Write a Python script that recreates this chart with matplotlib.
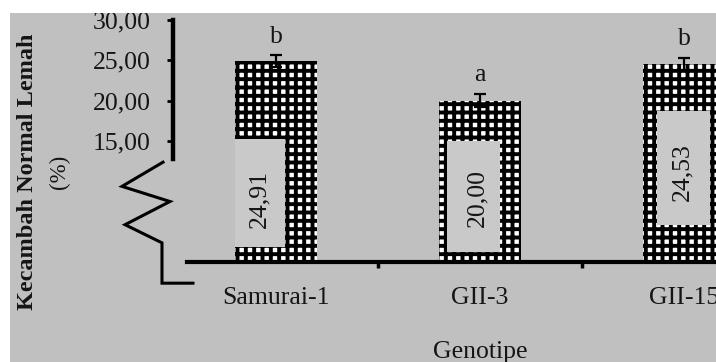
import matplotlib
matplotlib.use("Agg")
import matplotlib.pyplot as plt
from matplotlib.patches import Rectangle

# ---- data ----
genotypes = ['Samurai-1', 'GII-3', 'GII-15']
values = [24.91, 20.00, 24.53]
errors = [0.7, 0.8, 0.8]
letters = ['b', 'a', 'b']
value_labels = ['24,91', '20,00', '24,53']
yticks = [15, 20, 25, 30]
ytick_labels = ['15,00', '20,00', '25,00', '30,00']
ylabel = 'Kecambah Normal Lemah'
ylabel_unit = '(%)'
xlabel = 'Genotipe'

# ---- style ----
BG = '#c0c0c0'
INNER = '#c9c9c9'
TXT = '#151515'
FONT = 'Liberation Serif'
FS = 18.5
plt.rcParams['font.family'] = [FONT, 'DejaVu Serif']
plt.rcParams['hatch.linewidth'] = 2.8

W, H = 716, 362
fig = plt.figure(figsize=(W / 100, H / 100), dpi=100, facecolor=BG)
ax = fig.add_axes([173 / W, (H - 262) / H, (W - 173) / W, 242 / H])
ax.set_facecolor('none')

x = list(range(len(genotypes)))
bars = ax.bar(x, values, width=0.4, facecolor='white', edgecolor='black',
              linewidth=0, hatch='++', zorder=2)

# inner label boxes (offsets relative to bar centre, style only)
box_style = [(-0.20, 0.044, 1.9, 15.25),
             (-0.162, 0.098, 1.25, 15.0),
             (-0.132, 0.127, 4.6, 18.75)]
label_style = [(-0.083, 7.75), (-0.015, 7.9), (-0.01, 11.1)]
for xi, (x0, x1, y0, y1), (dx, ly), lab in zip(x, box_style, label_style, value_labels):
    ax.add_patch(Rectangle((xi + x0, y0), x1 - x0, y1 - y0, facecolor=INNER,
                           edgecolor='none', zorder=3))
    ax.text(xi + dx, ly, lab, rotation=90, ha='center', va='center',
            fontsize=FS, color=TXT, zorder=4)

ax.errorbar(x, values, yerr=errors, fmt='none', ecolor='black', elinewidth=1.6,
            capsize=4, capthick=1.6, zorder=5)
for xi, v, e, l in zip(x, values, errors, letters):
    ax.text(xi, v + e + 1.6, l, ha='center', va='baseline', fontsize=FS,
            color=TXT, zorder=5)

ax.set_xlim(-0.505, (W - 276) / 204)
ax.set_ylim(0, 30)

for s in ['top', 'right']:
    ax.spines[s].set_visible(False)
ax.spines['left'].set_linewidth(3.2)
ax.spines['left'].set_bounds(12.75, 30)
ax.spines['bottom'].set_linewidth(3.0)
ax.spines['bottom'].set_bounds(-0.436, (W - 276) / 204)

ax.set_yticks(yticks)
ax.set_yticklabels(ytick_labels, fontsize=FS, color=TXT)
ax.tick_params(axis='y', direction='out', length=4, width=2, pad=12)

ax.set_xticks(x)
ax.set_xticklabels(genotypes, fontsize=FS, color=TXT)
ax.set_xticks([0.5, 1.5], minor=True)
ax.tick_params(axis='x', which='major', length=0, pad=18)
ax.tick_params(axis='x', which='minor', direction='out', length=4, width=2.5)

ax.set_xlabel(xlabel, fontsize=FS, color=TXT, va='center')
ax.xaxis.set_label_coords((480 - 173) / 543, (262 - 352) / 242)

# broken-axis zigzag (decoration)
zz_x = [-0.554, -0.755, -0.520, -0.740, -0.559, -0.559, -0.407]
zz_y = [12.375, 9.375, 7.5, 4.625, 2.375, -2.625, -2.625]
ax.plot(zz_x, zz_y, color='black', lw=2.2, clip_on=False, zorder=6,
        solid_joinstyle='miter')

fig.text(28 / W, 1 - 172 / H, ylabel, rotation=90, ha='center', va='center',
         fontsize=FS - 1, fontweight='bold', color=TXT)
fig.text(59 / W, 1 - 172 / H, ylabel_unit, rotation=90, ha='center', va='center',
         fontsize=FS - 2, color=TXT)

# white margins of the original screenshot
fig.patches.append(Rectangle((0, 0), 10 / W, 1, transform=fig.transFigure,
                             facecolor='white', edgecolor='none', zorder=20))
fig.patches.append(Rectangle((0, 1 - 13 / H), 1, 13 / H, transform=fig.transFigure,
                             facecolor='white', edgecolor='none', zorder=20))

fig.savefig('out.png', dpi=100, facecolor=BG)
